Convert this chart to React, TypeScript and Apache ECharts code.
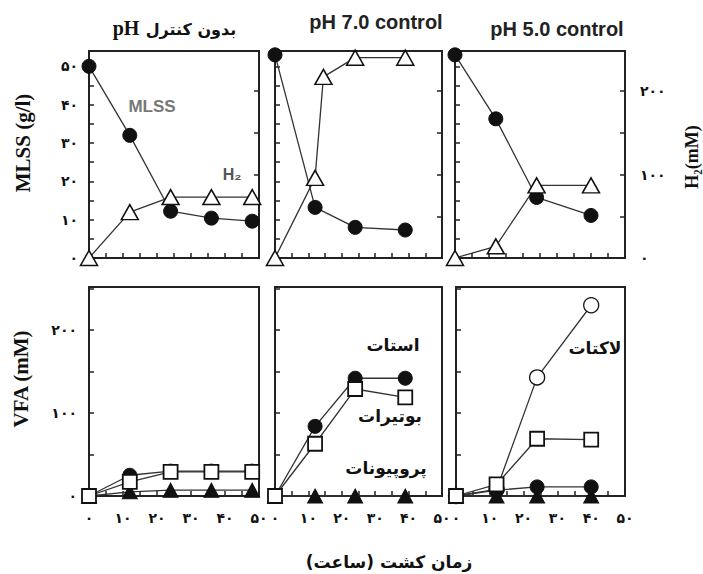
import React, { useEffect, useRef } from 'react';
import * as echarts from 'echarts';

// ---- data (hours, values) ----
const tNoCtrl = [0, 12, 24, 36, 48];
const mlssNoCtrl = [50, 32, 12.2, 10.4, 9.6];
const h2NoCtrl = [0, 55, 73, 73, 73];

const tMlss7 = [0, 12, 24, 39];
const mlss7 = [53, 13.2, 8, 7.3];
const tH2_7 = [0, 12, 14.5, 24, 39];
const h2_7 = [0, 96, 217, 240, 240];

const t5 = [0, 12, 24, 40];
const mlss5 = [53, 36.3, 15.8, 11.1];
const h2_5 = [0, 14, 87, 87];

const acetateNoCtrl = [0, 25, 30, 30, 30];
const butyrateNoCtrl = [0, 17, 29, 29, 29];
const propionateNoCtrl = [0, 5, 7, 7, 7];

const t7 = [0, 12, 24, 39];
const acetate7 = [0, 84, 142, 142];
const butyrate7 = [0, 63, 129, 119];
const propionate7 = [0, 0, 0, 0];

const lactate5 = [0, 8, 143, 230];
const butyrate5 = [0, 14, 69, 68];
const acetate5 = [0, 7, 11, 11];
const propionate5 = [0, 0, 0, 0];

const faDigits = '۰۱۲۳۴۵۶۷۸۹';
const fa = (n: number) => String(n).replace(/\d/g, (d) => faDigits[+d]);

const pair = (xs: number[], ys: number[]) => xs.map((x, i) => [x, ys[i]]);

const INK = '#111';
const LINE = { color: '#333', width: 1.3 };

const filledCircle = { symbol: 'circle', symbolSize: 14, itemStyle: { color: INK, borderColor: INK, borderWidth: 1 } };
const openCircle = { symbol: 'circle', symbolSize: 15, itemStyle: { color: '#fff', borderColor: INK, borderWidth: 1.3 } };
const openTri = { symbol: 'triangle', symbolSize: [17, 15], itemStyle: { color: '#fff', borderColor: INK, borderWidth: 1.5 } };
const filledTri = { symbol: 'triangle', symbolSize: [15, 14], itemStyle: { color: INK, borderColor: INK, borderWidth: 1 } };
const openSq = { symbol: 'rect', symbolSize: 14, itemStyle: { color: '#fff', borderColor: INK, borderWidth: 1.8 } };

const mk = (xi: number, yi: number, xs: number[], ys: number[], sym: any) => ({
  type: 'line',
  xAxisIndex: xi,
  yAxisIndex: yi,
  data: pair(xs, ys),
  clip: false,
  lineStyle: LINE,
  ...sym,
});

const labelFont = { fontFamily: 'DejaVu Sans', fontWeight: 'bold', fontSize: 14, color: INK };

export default function App() {
  const ref = useRef<HTMLDivElement>(null);
  useEffect(() => {
    document.body.style.margin = '0';
    const chart = echarts.init(ref.current!, null, { renderer: 'svg' });

    const grids = [
      { left: 89, top: 51, width: 170, height: 207 },
      { left: 275, top: 51, width: 167, height: 207 },
      { left: 455, top: 51, width: 170, height: 207 },
      { left: 89, top: 287, width: 170, height: 209 },
      { left: 275, top: 287, width: 167, height: 209 },
      { left: 456, top: 287, width: 169, height: 209 },
    ].map((g) => ({ ...g, show: true, borderColor: '#222', borderWidth: 2, backgroundColor: 'transparent' }));

    const xAxes = grids.map((_, i) => ({
      type: 'value',
      gridIndex: i,
      min: 0,
      max: 50,
      interval: 5,
      axisLine: { show: true, lineStyle: { color: '#222', width: 2 } },
      axisTick: { show: true, inside: true, length: 5, lineStyle: { color: '#222', width: 1.5 } },
      splitLine: { show: false },
      axisLabel: {
        show: i >= 3,
        margin: 15,
        ...labelFont,
        formatter: (v: number) => (v % 10 === 0 ? fa(v) : ''),
      },
    }));

    const tick = { show: true, inside: true, length: 5, lineStyle: { color: '#222', width: 1.5 } };
    const yAxes: any[] = [];
    // MLSS (left) 0..2
    for (let i = 0; i < 3; i++) {
      yAxes.push({
        type: 'value', gridIndex: i, position: 'left', min: 0, max: 54, interval: 5,
        axisLine: { show: true, lineStyle: { color: '#222', width: 2 } },
        axisTick: tick, splitLine: { show: false },
        axisLabel: { show: i === 0, margin: 11, ...labelFont, formatter: (v: number) => (v % 10 === 0 ? fa(v) : '') },
      });
    }
    // H2 (right) 3..5
    for (let i = 0; i < 3; i++) {
      yAxes.push({
        type: 'value', gridIndex: i, position: 'right', min: 0, max: 248, interval: 50,
        axisLine: { show: true, lineStyle: { color: '#222', width: 2 } },
        axisTick: tick, splitLine: { show: false },
        axisLabel: { show: i === 2, margin: 15, ...labelFont, formatter: (v: number) => (v % 100 === 0 ? fa(v) : '') },
      });
    }
    // VFA (left) 6..8
    for (let i = 0; i < 3; i++) {
      yAxes.push({
        type: 'value', gridIndex: 3 + i, position: 'left', min: 0, max: 252, interval: 50,
        axisLine: { show: true, lineStyle: { color: '#222', width: 2 } },
        axisTick: tick, splitLine: { show: false },
        axisLabel: { show: i === 0, margin: 12, ...labelFont, formatter: (v: number) => (v % 100 === 0 ? fa(v) : '') },
      });
    }

    const series = [
      mk(0, 0, tNoCtrl, mlssNoCtrl, filledCircle),
      mk(0, 3, tNoCtrl, h2NoCtrl, openTri),
      mk(1, 1, tMlss7, mlss7, filledCircle),
      mk(1, 4, tH2_7, h2_7, openTri),
      mk(2, 2, t5, mlss5, filledCircle),
      mk(2, 5, t5, h2_5, openTri),

      mk(3, 6, tNoCtrl, propionateNoCtrl, filledTri),
      mk(3, 6, tNoCtrl, acetateNoCtrl, filledCircle),
      mk(3, 6, tNoCtrl, butyrateNoCtrl, openSq),

      mk(4, 7, t7, propionate7, filledTri),
      mk(4, 7, t7, acetate7, filledCircle),
      mk(4, 7, t7, butyrate7, openSq),

      mk(5, 8, t5, propionate5, filledTri),
      mk(5, 8, t5, lactate5, openCircle),
      mk(5, 8, t5, acetate5, filledCircle),
      mk(5, 8, t5, butyrate5, openSq),
    ];

    const txt = (x: number, y: number, text: string, extra: any = {}, rotation = 0) => ({
      type: 'text', x, y, rotation, z: 100,
      style: {
        text, textAlign: 'center', textVerticalAlign: 'middle', fill: INK,
        fontFamily: 'DejaVu Sans', fontWeight: 'bold', fontSize: 17, ...extra,
      },
    });

    const graphic = [
      txt(126, 28, 'pH', { fontFamily: 'Liberation Serif', fontSize: 20 }),
      txt(191, 29, 'بدون کنترل', { fontSize: 16 }),
      txt(376, 22, 'pH 7.0 control', { fontFamily: 'Liberation Sans', fontSize: 20, fill: '#222' }),
      txt(557, 29, 'pH 5.0 control', { fontFamily: 'Liberation Sans', fontSize: 20, fill: '#222' }),
      txt(23, 143, 'MLSS (g/l)', { fontFamily: 'Liberation Serif', fontSize: 21 }, Math.PI / 2),
      txt(21, 379, 'VFA (mM)', { fontFamily: 'Liberation Serif', fontSize: 21 }, Math.PI / 2),
      txt(692, 157, 'H₂(mM)', { fontFamily: 'Liberation Serif', fontSize: 18 }, Math.PI / 2),
      txt(152, 106, 'MLSS', { fontFamily: 'Liberation Sans', fontSize: 17, fill: '#777' }),
      txt(232, 174, 'H₂', { fontFamily: 'Liberation Sans', fontSize: 16, fill: '#555' }),
      txt(393, 345, 'استات'),
      txt(390, 416, 'بوتیرات'),
      txt(386, 468, 'پروپیونات'),
      txt(595, 348, 'لاکتات'),
      txt(389, 562, 'زمان کشت (ساعت)', { fontSize: 17 }),
    ];

    chart.setOption({
      animation: false,
      backgroundColor: '#fff',
      grid: grids,
      xAxis: xAxes,
      yAxis: yAxes,
      series,
      graphic,
    });
    return () => chart.dispose();
  }, []);
  return <div ref={ref} style={{ width: 703, height: 574 }} />;
}
